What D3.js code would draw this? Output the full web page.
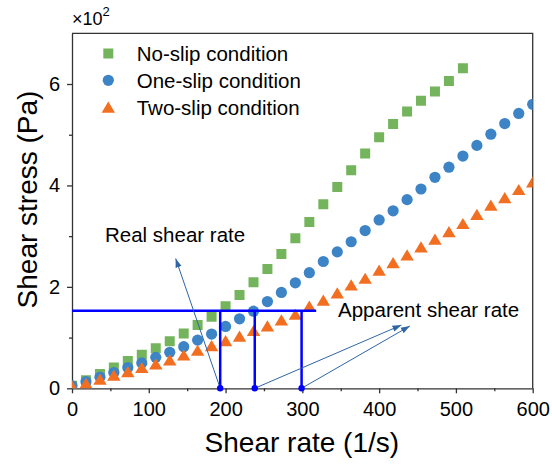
<!DOCTYPE html>
<html>
<head>
<meta charset="utf-8">
<script src="https://cdn.jsdelivr.net/npm/d3@7/dist/d3.min.js"></script>
<style>
  body { margin: 0; background: #fff; }
  svg { font-family: "Liberation Sans", Arial, sans-serif; }
  .axis text { font-size: 20px; fill: #000; }
  .axis path, .axis line { stroke: #333; stroke-width: 1.3; }
  .axis-title { font-size: 28px; fill: #000; }
  .legend-label, .note { font-size: 20.5px; fill: #000; }
</style>
</head>
<body>
<svg id="chart"></svg>
<script>
// shear rate (1/s), shared by all series
const shearRate = [0, 18.2, 36.4, 54.5, 72.7, 90.9, 109.1, 127.3, 145.5, 163.6, 181.8, 200,
  218.2, 236.4, 254.5, 272.7, 290.9, 309.1, 327.3, 345.5, 363.6, 381.8, 400, 418.2,
  436.4, 454.5, 472.7, 490.9, 509.1, 527.3, 545.5, 563.6, 581.8, 600];

// shear stress (Pa)
const noSlip = [5, 16, 28, 41, 54, 66, 79, 93, 108, 125, 141, 162, 184, 209, 235, 265,
  296, 328, 363, 397, 430, 463, 495, 521, 546, 567, 585, 606, 631];
const oneSlip = [5, 13, 22, 31, 41, 50, 61, 71, 82, 95, 107, 122, 137, 152, 171, 189,
  208, 228, 250, 269, 289, 311, 332, 350, 372, 393, 416, 436, 458, 479, 501, 522, 542, 560];
const twoSlip = [4.5, 10, 18, 26, 33, 41, 48, 56, 66, 75, 84, 94, 103, 114, 123, 135,
  146, 162, 174, 188, 204, 217, 233, 248, 263, 279, 294, 309, 325, 343, 361, 376, 392, 407];

const seriesNames = ['No-slip condition', 'One-slip condition', 'Two-slip condition'];

// guide lines: stress level and the three marked shear rates
const markStress = 153;
const markLineEnd = 318;
const markRates = [193, 238, 299];
// arrows: [from rate, to rate, to stress]
const arrows = [[193, 135, 256], [238, 429, 124.7], [299, 440, 122.8]];

const xTicks = [0, 100, 200, 300, 400, 500, 600];
const xMinor = [50, 150, 250, 350, 450, 550];
const yTicks = [0, 200, 400, 600];
const yMinor = [100, 300, 500];

const config = {
  containerWidth: 552,
  containerHeight: 464,
  margin: {top: 33.3, right: 19.3, bottom: 75.7, left: 72}
};
const colors = ['#74b45c', '#3d84c6', '#f26f21'];

const width = config.containerWidth - config.margin.left - config.margin.right;
const height = config.containerHeight - config.margin.top - config.margin.bottom;

const svg = d3.select('#chart')
  .attr('width', config.containerWidth)
  .attr('height', config.containerHeight);

const chart = svg.append('g')
  .attr('transform', `translate(${config.margin.left},${config.margin.top})`);

const xScale = d3.scaleLinear().domain([0, 600]).range([0, width]);
const yScale = d3.scaleLinear().domain([0, 700]).range([height, 0]);

chart.append('defs').append('clipPath').attr('id', 'plot-clip')
  .append('rect').attr('width', width).attr('height', height);

// minor ticks first, labels none
chart.append('g').attr('class', 'axis')
  .attr('transform', `translate(0,${height})`)
  .call(d3.axisBottom(xScale).tickValues(xMinor).tickSize(3).tickSizeOuter(0).tickFormat(''))
  .call(g => g.select('.domain').remove());
chart.append('g').attr('class', 'axis')
  .call(d3.axisLeft(yScale).tickValues(yMinor).tickSize(3).tickSizeOuter(0).tickFormat(''))
  .call(g => g.select('.domain').remove());

chart.append('g').attr('class', 'axis x-axis')
  .attr('transform', `translate(0,${height})`)
  .call(d3.axisBottom(xScale).tickValues(xTicks).tickSize(5).tickSizeOuter(0).tickPadding(8.5));
chart.append('g').attr('class', 'axis y-axis')
  .call(d3.axisLeft(yScale).tickValues(yTicks).tickSize(5).tickSizeOuter(0).tickPadding(7)
    .tickFormat(d => d / 100));

// top and right frame
chart.append('path')
  .attr('d', `M0,0H${width}V${height}`)
  .attr('fill', 'none').attr('stroke', '#333').attr('stroke-width', 1.3);

// marker shapes
const square = 'M-5,-5h10v10h-10z';
const circle = d3.symbol(d3.symbolCircle, Math.PI * 5.6 * 5.6)();
const triangle = 'M0,-5.6L6.7,5.6L-6.7,5.6Z';
const shapes = [square, circle, triangle];

const plot = chart.append('g').attr('clip-path', 'url(#plot-clip)');
[noSlip, oneSlip, twoSlip].forEach((values, i) => {
  plot.selectAll(`.pt-${i}`)
    .data(values)
    .join('path')
    .attr('class', `pt-${i}`)
    .attr('d', shapes[i])
    .attr('fill', colors[i])
    .attr('transform', (d, j) => `translate(${xScale(shearRate[j])},${yScale(d)})`);
});

// guide lines
const guide = chart.append('g');
guide.append('line')
  .attr('x1', xScale(0)).attr('x2', xScale(markLineEnd))
  .attr('y1', yScale(markStress)).attr('y2', yScale(markStress))
  .attr('stroke', '#0000ff').attr('stroke-width', 2.5);
guide.selectAll('.vline')
  .data(markRates)
  .join('line')
  .attr('class', 'vline')
  .attr('x1', d => xScale(d)).attr('x2', d => xScale(d))
  .attr('y1', yScale(0)).attr('y2', yScale(markStress))
  .attr('stroke', '#0000ff').attr('stroke-width', 2.5);

// arrows
svg.append('defs').append('marker')
  .attr('id', 'arrowhead')
  .attr('viewBox', '0 0 10 10')
  .attr('refX', 10).attr('refY', 5)
  .attr('markerWidth', 9).attr('markerHeight', 9)
  .attr('markerUnits', 'userSpaceOnUse')
  .attr('orient', 'auto')
  .append('path').attr('d', 'M0,1.5L10,5L0,8.5Z').attr('fill', '#2f65a5');

guide.selectAll('.arrow')
  .data(arrows)
  .join('line')
  .attr('class', 'arrow')
  .attr('x1', d => xScale(d[0])).attr('y1', yScale(0))
  .attr('x2', d => xScale(d[1])).attr('y2', d => yScale(d[2]))
  .attr('stroke', '#2f65a5').attr('stroke-width', 1)
  .attr('marker-end', 'url(#arrowhead)');

guide.selectAll('.dot')
  .data(markRates)
  .join('circle')
  .attr('class', 'dot')
  .attr('cx', d => xScale(d)).attr('cy', yScale(0))
  .attr('r', 3.2).attr('fill', '#0000ff');

// notes
svg.append('text').attr('class', 'note').attr('x', 105).attr('y', 242).text('Real shear rate');
svg.append('text').attr('class', 'note').attr('x', 338).attr('y', 317).text('Apparent shear rate');

// legend
const legend = svg.append('g').attr('transform', 'translate(108.3,53.5)');
seriesNames.forEach((name, i) => {
  const row = legend.append('g').attr('transform', `translate(0,${i * 26.8})`);
  row.append('path').attr('d', shapes[i]).attr('fill', colors[i]);
  row.append('text').attr('class', 'legend-label')
    .attr('x', 28.4).attr('y', 7.6).text(name);
});

// axis titles
svg.append('text').attr('class', 'axis-title')
  .attr('x', config.margin.left + width / 2 - 0.5).attr('y', 451.7)
  .attr('text-anchor', 'middle').text('Shear rate (1/s)');
svg.append('text').attr('class', 'axis-title')
  .attr('transform', 'translate(36.7,199.5) rotate(-90)')
  .attr('text-anchor', 'middle').text('Shear stress (Pa)');

// exponent label
const expo = svg.append('text').attr('x', 72).attr('y', 25).attr('font-size', 18);
expo.append('tspan').text('×10');
expo.append('tspan').attr('font-size', 13).attr('dy', -9).text('2');
</script>
</body>
</html>
